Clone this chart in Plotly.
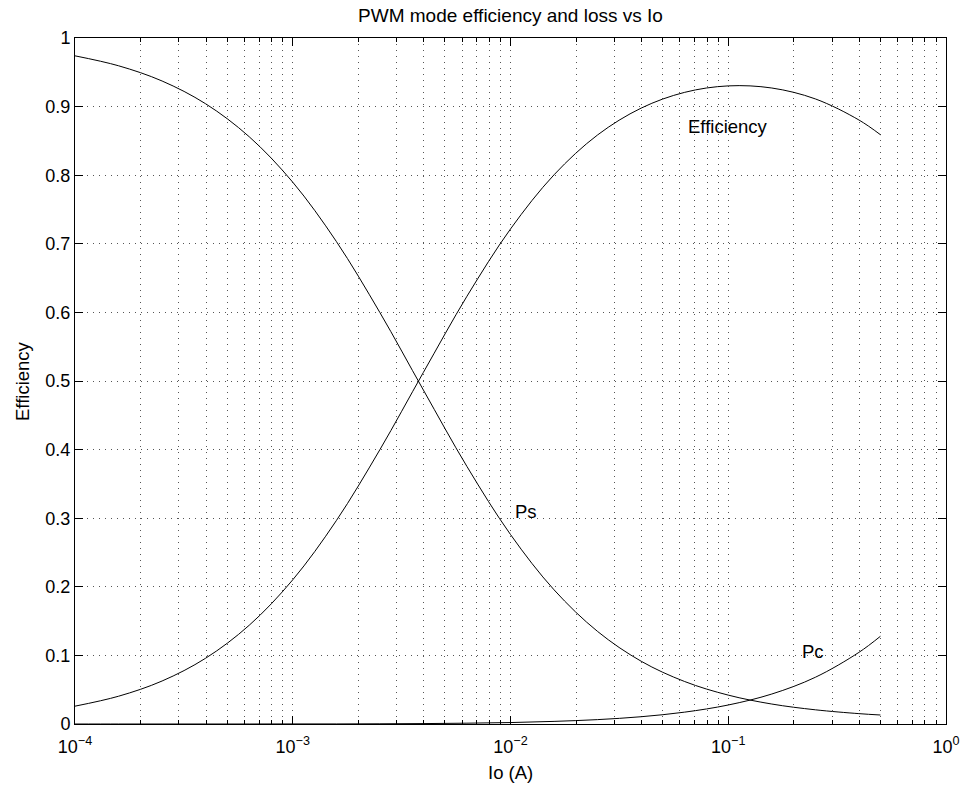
import math
import plotly.graph_objects as go

# Data
io = [0.0001, 0.00015849, 0.00025119, 0.00039811, 0.00063096, 0.001, 0.0015849,
      0.0025119, 0.0039811, 0.0063096, 0.01, 0.015849, 0.025119, 0.039811,
      0.063096, 0.1, 0.15849, 0.25119, 0.39811, 0.5]
efficiency = [0.0260, 0.0405, 0.0627, 0.0959, 0.1439, 0.2102, 0.2964, 0.3998, 0.5126,
              0.6235, 0.7216, 0.8006, 0.8587, 0.8978, 0.9208, 0.9302, 0.9271, 0.9112,
              0.8805, 0.8590]
ps = [0.9740, 0.9595, 0.9373, 0.9041, 0.8561, 0.7898, 0.7035, 0.5999, 0.4868, 0.3754,
      0.2762, 0.1956, 0.1349, 0.0915, 0.0619, 0.0421, 0.0291, 0.0207, 0.0151, 0.0131]
pc = [0.0000, 0.0000, 0.0000, 0.0000, 0.0000, 0.0001, 0.0001, 0.0003, 0.0006, 0.0012,
      0.0021, 0.0038, 0.0064, 0.0106, 0.0173, 0.0277, 0.0437, 0.0681, 0.1044, 0.1279]

x_tick_vals = [1e-4, 1e-3, 1e-2, 1e-1, 1e0]
x_tick_text = ["10<sup>\u22124</sup>", "10<sup>\u22123</sup>", "10<sup>\u22122</sup>",
               "10<sup>\u22121</sup>", "10<sup>0</sup>"]
y_tick_vals = [0, 0.1, 0.2, 0.3, 0.4, 0.5, 0.6, 0.7, 0.8, 0.9, 1]
y_tick_text = ["0", "0.1", "0.2", "0.3", "0.4", "0.5", "0.6", "0.7", "0.8", "0.9", "1"]

labels = [("Efficiency", 0.1, 0.871), ("Ps", 0.01183, 0.310), ("Pc", 0.2455, 0.1053)]

FONT = "Liberation Sans, Arial, Helvetica, sans-serif"
GRID_DASH = "1px,5px"
GRID_COLOR = "#555555"

fig = go.Figure()
for ys in (efficiency, ps, pc):
    fig.add_trace(go.Scatter(x=io, y=ys, mode="lines",
                             line=dict(color="black", width=1, shape="spline", smoothing=1),
                             showlegend=False, hoverinfo="skip"))

for text, xv, yv in labels:
    fig.add_annotation(x=math.log10(xv), y=yv, xref="x", yref="y", text=text, showarrow=False,
                       font=dict(family=FONT, size=18.5, color="black"),
                       xanchor="center", yanchor="middle")

minor_x = [m * 10 ** e for e in range(-4, 0) for m in range(2, 10)]

fig.update_xaxes(type="log", range=[-4, 0], tickmode="array", tickvals=x_tick_vals,
                 ticktext=x_tick_text, ticks="inside", ticklen=8, tickcolor="black",
                 showline=True, linecolor="black", linewidth=1, mirror="ticks",
                 showgrid=True, gridcolor=GRID_COLOR, griddash=GRID_DASH, gridwidth=1,
                 zeroline=False, ticklabelstandoff=6, automargin=False,
                 tickfont=dict(family=FONT, size=18, color="black"),
                 minor=dict(tickmode="array", tickvals=minor_x, ticks="inside", ticklen=4,
                            tickcolor="black", showgrid=True, gridcolor=GRID_COLOR,
                            griddash=GRID_DASH, gridwidth=1))
fig.update_yaxes(range=[0, 1], tickmode="array", tickvals=y_tick_vals, ticktext=y_tick_text,
                 ticks="inside", ticklen=8, tickcolor="black",
                 showline=True, linecolor="black", linewidth=1, mirror="ticks",
                 showgrid=True, gridcolor=GRID_COLOR, griddash=GRID_DASH, gridwidth=1,
                 zeroline=False, automargin=False,
                 tickfont=dict(family=FONT, size=18, color="black"))

fig.add_annotation(text="Io (A)", xref="paper", yref="paper", x=0.5, y=0, yshift=-48,
                   showarrow=False, xanchor="center", yanchor="middle",
                   font=dict(family=FONT, size=18.5, color="black"))
fig.add_annotation(text="Efficiency", xref="paper", yref="paper", x=0, y=0.5, xshift=-53,
                   textangle=-90, showarrow=False, xanchor="center", yanchor="middle",
                   font=dict(family=FONT, size=18.5, color="black"))

fig.update_layout(
    width=964, height=787,
    margin=dict(l=75, r=18, t=37.5, b=63, autoexpand=False),
    paper_bgcolor="white", plot_bgcolor="white",
    title=dict(text="PWM mode efficiency and loss vs Io", x=0.5, xref="paper",
               y=1 - 15.5 / 787, yref="container", xanchor="center", yanchor="middle",
               font=dict(family=FONT, size=19, color="black")),
    font=dict(family=FONT, color="black"),
)

# remove the browser's default 8px body margin so the figure fills the window exactly
fig.write_html("out.html", config={"displayModeBar": False},
               post_script="document.body.style.margin='0px';")
